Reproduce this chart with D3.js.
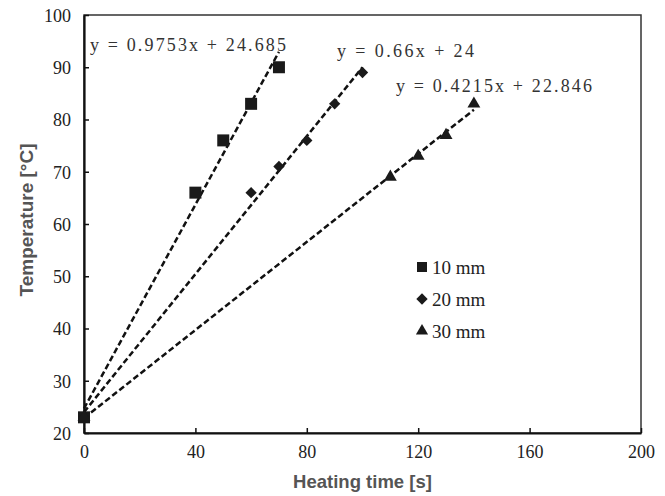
<!DOCTYPE html>
<html>
<head>
<meta charset="utf-8">
<script src="https://cdn.jsdelivr.net/npm/d3@7"></script>
<style>
  body { margin: 0; background: #fff; }
  svg { display: block; }
</style>
</head>
<body>
<div id="chart"></div>
<script>
// Heating time vs temperature, three sample thicknesses
const seriesNames = ["10 mm", "20 mm", "30 mm"];
const time10 = [0, 40, 50, 60, 70];
const temp10 = [23, 66, 76, 83, 90];
const time20 = [0, 60, 70, 80, 90, 100];
const temp20 = [23, 66, 71, 76, 83, 89];
const time30 = [0, 110, 120, 130, 140];
const temp30 = [23, 69, 73, 77, 83];
const eqLabels = ["y = 0.9753x + 24.685", "y = 0.66x + 24", "y = 0.4215x + 22.846"];
const xTicks = [0, 40, 80, 120, 160, 200];
const yTicks = [20, 30, 40, 50, 60, 70, 80, 90, 100];

const width = 665, height = 496;
const margin = {top: 15, right: 24, bottom: 63, left: 84};

const svg = d3.select("#chart").append("svg")
    .attr("width", width)
    .attr("height", height);

const x = d3.scaleLinear().domain([0, 200]).range([margin.left, width - margin.right]);
const y = d3.scaleLinear().domain([20, 100]).range([height - margin.bottom, margin.top]);

const series = [
  {name: seriesNames[0], xs: time10, ys: temp10, shape: "square"},
  {name: seriesNames[1], xs: time20, ys: temp20, shape: "diamond"},
  {name: seriesNames[2], xs: time30, ys: temp30, shape: "triangle"}
];

// least squares fit, as the spreadsheet trendline does
function fit(xs, ys) {
  const mx = d3.mean(xs), my = d3.mean(ys);
  let sxy = 0, sxx = 0;
  xs.forEach((v, i) => { sxy += (v - mx) * (ys[i] - my); sxx += (v - mx) * (v - mx); });
  const slope = sxy / sxx;
  return {slope, intercept: my - slope * mx};
}

// frame
svg.append("rect")
    .attr("x", x(0)).attr("y", y(100))
    .attr("width", x(200) - x(0)).attr("height", y(20) - y(100))
    .attr("fill", "none").attr("stroke", "#333").attr("stroke-width", 1.5);

const xAxis = svg.append("g")
    .attr("transform", `translate(0,${y(20)})`)
    .call(d3.axisBottom(x).tickValues(xTicks).tickSize(-5).tickPadding(12).tickSizeOuter(0));
const yAxis = svg.append("g")
    .attr("transform", `translate(${x(0)},0)`)
    .call(d3.axisLeft(y).tickValues(yTicks).tickSize(-5).tickPadding(13).tickSizeOuter(0));

[xAxis, yAxis].forEach(g => {
  g.select(".domain").attr("stroke", "#111").attr("stroke-width", 2.2);
  g.selectAll(".tick line").attr("stroke", "#111").attr("stroke-width", 1.5);
  g.selectAll(".tick text")
      .attr("fill", "#222")
      .style("font-family", "'Liberation Serif', 'Times New Roman', serif")
      .style("font-size", "18px");
});
yAxis.selectAll(".tick text").attr("dy", "0.35em");

// trendlines
const line = d3.line().x(d => x(d[0])).y(d => y(d[1]));
series.forEach(s => {
  const f = fit(s.xs, s.ys);
  const x1 = d3.max(s.xs);
  svg.append("path")
      .attr("d", line([[0, f.intercept], [x1, f.intercept + f.slope * x1]]))
      .attr("fill", "none")
      .attr("stroke", "#111")
      .attr("stroke-width", 2.5)
      .attr("stroke-dasharray", "6,3");
});

function symbolPath(shape, big) {
  if (shape === "square") return d3.symbol(d3.symbolSquare, big ? 144 : 100)();
  if (shape === "diamond") return d3.symbol(d3.symbolSquare, 64)();
  return d3.symbol(d3.symbolTriangle, big ? 72 : 64)();
}

// markers
series.forEach(s => {
  svg.append("g")
    .selectAll("path")
    .data(s.xs.map((v, i) => [v, s.ys[i]]))
    .join("path")
      .attr("d", symbolPath(s.shape, true))
      .attr("transform", d => `translate(${x(d[0])},${y(d[1])})` + (s.shape === "diamond" ? " rotate(45)" : ""))
      .attr("fill", "#1a1a1a");
});

// equation labels
const eqPos = [[90, 51, 196], [337, 57, 137], [396, 92, 196]];
svg.append("g")
  .selectAll("text")
  .data(eqLabels)
  .join("text")
    .attr("x", (d, i) => eqPos[i][0])
    .attr("y", (d, i) => eqPos[i][1])
    .attr("textLength", (d, i) => eqPos[i][2])
    .attr("lengthAdjust", "spacing")
    .attr("fill", "#333")
    .style("font-family", "'Liberation Serif', 'Times New Roman', serif")
    .style("font-size", "18px")
    .text(d => d);

// legend
const legend = svg.append("g")
  .selectAll("g")
  .data(series)
  .join("g")
    .attr("transform", (d, i) => `translate(422,${267 + i * 32})`);
legend.append("path")
    .attr("d", d => symbolPath(d.shape, false))
    .attr("transform", d => d.shape === "diamond" ? "rotate(45)" : null)
    .attr("fill", "#1a1a1a");
legend.append("text")
    .attr("x", 10)
    .attr("dy", "0.35em")
    .attr("fill", "#222")
    .style("font-family", "'Liberation Serif', 'Times New Roman', serif")
    .style("font-size", "19px")
    .text(d => d.name);

// axis titles
svg.append("text")
    .attr("x", (x(0) + x(200)) / 2)
    .attr("y", 488)
    .attr("text-anchor", "middle")
    .attr("fill", "#555")
    .style("font-family", "'Liberation Sans', Arial, sans-serif")
    .style("font-weight", "bold")
    .style("font-size", "18.5px")
    .text("Heating time [s]");

svg.append("text")
    .attr("transform", "translate(33,220) rotate(-90)")
    .attr("text-anchor", "middle")
    .attr("fill", "#555")
    .style("font-family", "'Liberation Sans', Arial, sans-serif")
    .style("font-weight", "bold")
    .style("font-size", "19px")
    .text("Temperature [°C]");
</script>
</body>
</html>
